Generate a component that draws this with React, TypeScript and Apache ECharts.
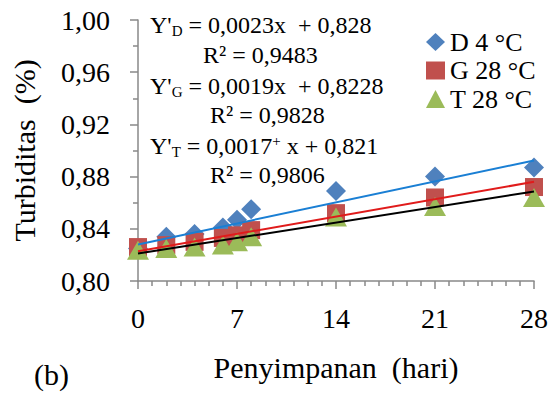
import React, { useEffect, useRef } from "react";
import * as echarts from "echarts";

const days = [0, 2, 4, 6, 7, 8, 14, 21, 28];
const seriesNames = ["D 4 °C", "G 28 °C", "T 28 °C"];
const valuesD = [0.825, 0.834, 0.836, 0.841, 0.847, 0.855, 0.869, 0.88, 0.887];
const valuesG = [0.826, 0.8275, 0.83, 0.833, 0.835, 0.839, 0.852, 0.864, 0.872];
const valuesT = [0.8235, 0.825, 0.826, 0.8275, 0.83, 0.834, 0.849, 0.857, 0.864];
const trendSlopes = [0.0023, 0.0019, 0.0017];
const trendIntercepts = [0.828, 0.8228, 0.821];
const rSquared = [0.9483, 0.9828, 0.9806];
const subscripts = ["D", "G", "T"];
const xTicks = [0, 7, 14, 21, 28];

const FONT = "Liberation Serif";
const markerColors = ["#4f81bd", "#c0504d", "#9bbb59"];
const trendColors = ["#1a7fd4", "#e01b1b", "#000000"];
const symbols = ["diamond", "rect", "triangle"];
const symbolSizes: any[] = [[20, 20], [18, 18], [22, 19]];

const comma = (v: number, d?: number) =>
  (d === undefined ? String(v) : v.toFixed(d)).replace(".", ",");

const txt = (size: number, extra: any = {}) => ({
  fontSize: size,
  fontFamily: FONT,
  fontWeight: "normal",
  fontStyle: "normal",
  color: "#000",
  ...extra,
});

export default function App() {
  const ref = useRef<HTMLDivElement>(null);
  useEffect(() => {
    if (!ref.current) return;
    const chart = echarts.init(ref.current, undefined, { renderer: "svg" });
    const allValues = [valuesD, valuesG, valuesT];
    const xMin = xTicks[0];
    const xMax = xTicks[xTicks.length - 1];

    const scatterSeries = allValues.map((vals, i) => ({
      type: "scatter",
      name: seriesNames[i],
      symbol: symbols[i],
      symbolSize: symbolSizes[i],
      itemStyle: { color: markerColors[i], opacity: 1 },
      data: days.map((d, j) => [d, vals[j]]),
      z: 2,
    }));
    const trendSeries = trendSlopes.map((m, i) => ({
      type: "line",
      name: "trend " + subscripts[i],
      showSymbol: false,
      symbol: "none",
      lineStyle: { color: trendColors[i], width: 2 },
      data: [
        [xMin, trendIntercepts[i] + m * xMin],
        [xMax, trendIntercepts[i] + m * xMax],
      ],
      z: 3,
      silent: true,
    }));

    const eqRows = [25, 86, 146];
    const r2Rows = [55, 115, 175];
    const r2Left = [203, 210, 210];
    const richStyles = {
      m: txt(24, { lineHeight: 26 }),
      s: txt(15, { lineHeight: 14, verticalAlign: "bottom" }),
      p: txt(15, { lineHeight: 15, verticalAlign: "top" }),
    };
    const titles: any[] = [];
    trendSlopes.forEach((m, i) => {
      const slopeText = comma(m, 4) + (i === 2 ? "}{p|+}{m| x" : "x\u00a0");
      titles.push({
        text:
          "{m|Y'}{s|" + subscripts[i] + "}{m| = " + slopeText + " + " + comma(trendIntercepts[i]) + "}",
        left: 150,
        top: eqRows[i] - 13,
        padding: 0,
        textStyle: txt(24, { lineHeight: 26, rich: richStyles }),
      });
      titles.push({
        text: "{m|R² = " + comma(rSquared[i], 4) + "}",
        left: r2Left[i],
        top: r2Rows[i] - 13,
        padding: 0,
        textStyle: txt(24, { lineHeight: 26, rich: richStyles }),
      });
    });
    titles.push({
      text: "{b|(b)}",
      left: 34,
      top: 359,
      padding: 0,
      textStyle: txt(30, { lineHeight: 30, rich: { b: txt(30, { lineHeight: 30 }) } }),
    });

    const tickStyle = { color: "#888", width: 1.5 };
    chart.setOption({
      animation: false,
      textStyle: { fontFamily: FONT, fontWeight: "normal", fontStyle: "normal" },
      title: titles,
      grid: { left: 138, right: 22, top: 20, bottom: 113 },
      legend: {
        data: seriesNames,
        orient: "vertical",
        left: 421,
        top: 24,
        itemWidth: 19,
        itemHeight: 18,
        itemGap: 2.5,
        formatter: (name: string) => "{a|" + name + "}",
        textStyle: txt(26, { rich: { a: txt(26, { lineHeight: 26 }) } }),
      },
      xAxis: {
        type: "value",
        min: xMin,
        max: xMax,
        interval: 7,
        name: "{a|Penyimpanan\u00a0 (hari)}",
        nameLocation: "middle",
        nameGap: 70,
        nameTextStyle: txt(30, { rich: { a: txt(30, { lineHeight: 32 }) } }),
        axisLine: { lineStyle: tickStyle },
        axisTick: { show: true, length: 8, lineStyle: tickStyle },
        minorTick: { show: true, splitNumber: 7, length: 5, lineStyle: tickStyle },
        splitLine: { show: false },
        minorSplitLine: { show: false },
        axisLabel: txt(28, {
          margin: 22,
          formatter: (v: number) => "{a|" + v + "}",
          rich: { a: txt(28, { lineHeight: 30 }) },
        }),
      },
      yAxis: {
        type: "value",
        min: 0.8,
        max: 1.0,
        interval: 0.04,
        name: "{a|Turbiditas\u00a0 (%)}",
        nameLocation: "middle",
        nameGap: 98,
        nameTextStyle: txt(30, { rich: { a: txt(30, { lineHeight: 32 }) } }),
        axisLine: { show: true, lineStyle: tickStyle },
        axisTick: { show: true, length: 8, lineStyle: tickStyle },
        minorTick: { show: true, splitNumber: 2, length: 5, lineStyle: tickStyle },
        splitLine: { show: false },
        minorSplitLine: { show: false },
        axisLabel: txt(28, {
          margin: 28,
          formatter: (v: number) => "{a|" + comma(v, 2) + "}",
          rich: { a: txt(28, { lineHeight: 30 }) },
        }),
      },
      series: [...scatterSeries, ...trendSeries],
    });
    return () => chart.dispose();
  }, []);
  return (
    <div
      ref={ref}
      style={{ position: "fixed", left: 0, top: 0, width: 556, height: 394, background: "#fff" }}
    />
  );
}
